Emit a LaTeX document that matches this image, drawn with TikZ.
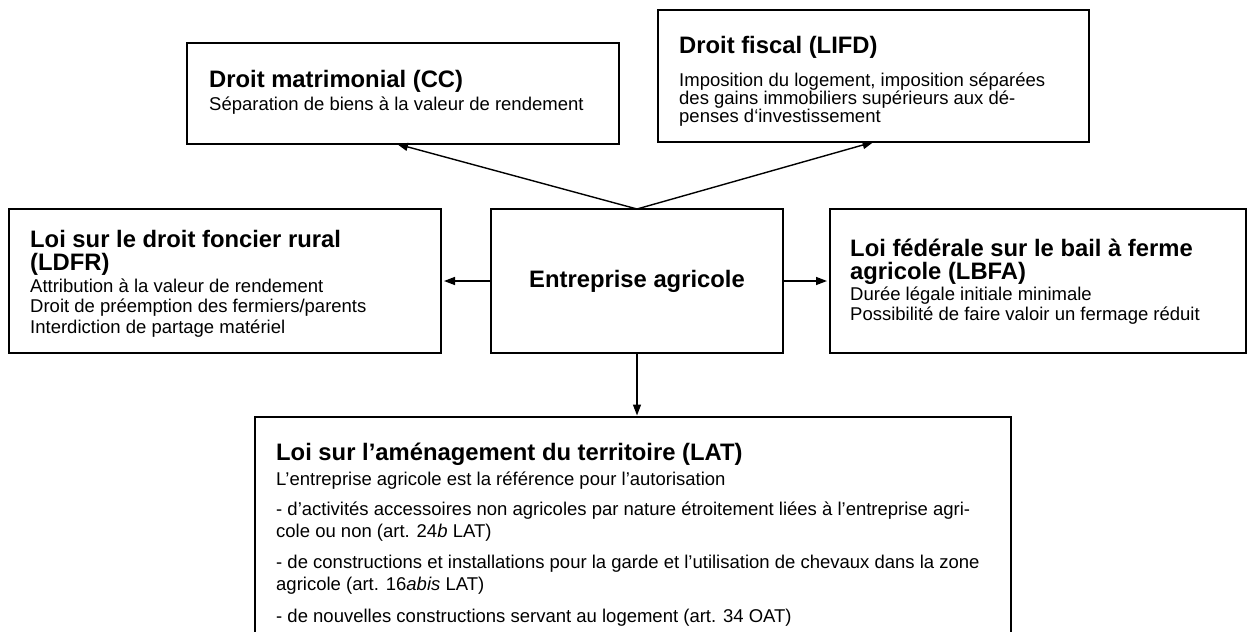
\documentclass[tikz,border=0pt]{standalone}
\usepackage{fontspec}
\setmainfont{Liberation Sans}
\usetikzlibrary{arrows.meta}
\begin{document}
\begin{tikzpicture}[x=1pt,y=-1pt,
  box/.style={draw, line width=1.6pt, rectangle, inner sep=0pt, outer sep=0pt, anchor=north west},
  ttl/.style={anchor=base west, inner sep=0pt, font=\fontsize{23.8}{26}\bfseries\selectfont},
  bdy/.style={anchor=base west, inner sep=0pt, font=\fontsize{18.5}{21}\selectfont},
  arr/.style={line width=1.4pt, -{Triangle[length=11pt,width=8pt]}}]
\clip (0,0) rectangle (1251,632);
% boxes
\node[box, minimum width=432pt, minimum height=101pt] (DM) at (187,43) {};
\node[box, minimum width=431pt, minimum height=132pt] (DF) at (658,10) {};
\node[box, minimum width=432pt, minimum height=144pt] (LDFR) at (9,209) {};
\node[box, minimum width=292pt, minimum height=144pt] (EA) at (491,209) {};
\node[box, minimum width=416pt, minimum height=144pt] (LBFA) at (830,209) {};
\node[box, minimum width=756pt, minimum height=230pt] (LAT) at (255,417) {};
% texts
\node[ttl] (dm1) at (209,87) {Droit matrimonial (CC)};
\node[bdy] (dm2) at (209,110) {Séparation de biens à la valeur de rendement};
\node[ttl] (df1) at (679,53) {Droit fiscal (LIFD)};
\node[bdy] (df2) at (679,86) {Imposition du logement, imposition séparées};
\node[bdy] (df3) at (679,104) {des gains immobiliers supérieurs aux dé-};
\node[bdy] (df4) at (679,122) {penses d‘investissement};
\node[ttl] (ld1) at (30,247) {Loi sur le droit foncier rural};
\node[ttl] (ld2) at (30,270) {(LDFR)};
\node[bdy] (ld3) at (30,292) {Attribution à la valeur de rendement};
\node[bdy] (ld4) at (30,312.5) {Droit de préemption des fermiers/parents};
\node[bdy] (ld5) at (30,333) {Interdiction de partage matériel};
\node[ttl, anchor=base] (ea1) at (637,287) {Entreprise agricole};
\node[ttl] (lb1) at (850,256) {Loi fédérale sur le bail à ferme};
\node[ttl] (lb2) at (850,279) {agricole (LBFA)};
\node[bdy] (lb3) at (850,300) {Durée légale initiale minimale};
\node[bdy] (lb4) at (850,320) {Possibilité de faire valoir un fermage réduit};
\node[ttl] (la1) at (276,460) {Loi sur l’aménagement du territoire (LAT)};
\node[bdy] (la2) at (276,485) {L’entreprise agricole est la référence pour l’autorisation};
\node[bdy] (la3) at (276,515) {- d’activités accessoires non agricoles par nature étroitement liées à l’entreprise agri-};
\node[bdy] (la4) at (276,537) {cole ou non (art. 24\textit{b} LAT)};
\node[bdy] (la5) at (276,568) {- de constructions et installations pour la garde et l’utilisation de chevaux dans la zone};
\node[bdy] (la6) at (276,590) {agricole (art. 16\textit{abis} LAT)};
\node[bdy] (la7) at (276,622) {- de nouvelles constructions servant au logement (art. 34 OAT)};
% connectors
\draw[arr] (EA.north) -- ([xshift=-6pt]DM.south);
\draw[arr] (EA.north) -- (DF.south);
\draw[arr, shorten >=3pt] (EA.west) -- (LDFR.east);
\draw[arr, shorten >=3pt] (EA.east) -- (LBFA.west);
\draw[arr, shorten >=1.5pt] (EA.south) -- (EA.south |- LAT.north);
\end{tikzpicture}
\end{document}
